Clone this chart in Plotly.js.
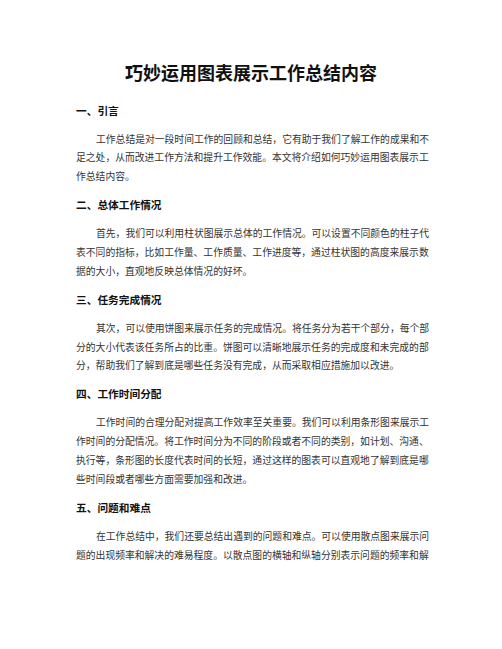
<!DOCTYPE html>
<html>
<head>
<meta charset="utf-8">
<script src="https://cdn.plot.ly/plotly-3.0.1.min.js"></script>
<style>
  html, body { margin: 0; padding: 0; background: #fff; }
  #page { width: 502px; height: 649px; }
</style>
</head>
<body>
<div id="page"></div>
<script>
// page text
var docTitle = '巧妙运用图表展示工作总结内容';

var headings = [
    '一、引言',
    '二、总体工作情况',
    '三、任务完成情况',
    '四、工作时间分配',
    '五、问题和难点'
];

var paragraphs = [
    ['工作总结是对一段时间工作的回顾和总结，它有助于我们了解工作的成果和不',
     '足之处，从而改进工作方法和提升工作效能。本文将介绍如何巧妙运用图表展示工',
     '作总结内容。'],
    ['首先，我们可以利用柱状图展示总体的工作情况。可以设置不同颜色的柱子代',
     '表不同的指标，比如工作量、工作质量、工作进度等，通过柱状图的高度来展示数',
     '据的大小，直观地反映总体情况的好坏。'],
    ['其次，可以使用饼图来展示任务的完成情况。将任务分为若干个部分，每个部',
     '分的大小代表该任务所占的比重。饼图可以清晰地展示任务的完成度和未完成的部',
     '分，帮助我们了解到底是哪些任务没有完成，从而采取相应措施加以改进。'],
    ['工作时间的合理分配对提高工作效率至关重要。我们可以利用条形图来展示工',
     '作时间的分配情况。将工作时间分为不同的阶段或者不同的类别，如计划、沟通、',
     '执行等，条形图的长度代表时间的长短，通过这样的图表可以直观地了解到底是哪',
     '些时间段或者哪些方面需要加强和改进。'],
    ['在工作总结中，我们还要总结出遇到的问题和难点。可以使用散点图来展示问',
     '题的出现频率和解决的难易程度。以散点图的横轴和纵轴分别表示问题的频率和解']
];

var font = 'Noto Sans CJK SC, Noto Sans, sans-serif';
var left = 74;
var bodySize = 9.8;
var lineStep = 18.8;
var gapAfterHead = 28.5;
var gapAfterPara = 28.5;

var notes = [];
notes.push({
    x: 251, y: 72, xref: 'x', yref: 'y', showarrow: false,
    xanchor: 'center', yanchor: 'middle',
    text: '<b>' + docTitle + '</b>',
    font: {family: font, size: 18, color: '#111'}
});

var y = 110;
for (var i = 0; i < headings.length; i++) {
    notes.push({
        x: left, y: y, xref: 'x', yref: 'y', showarrow: false,
        xanchor: 'left', yanchor: 'middle',
        text: '<b>' + headings[i] + '</b>',
        font: {family: font, size: 10.7, color: '#111'}
    });
    y += gapAfterHead;
    var lines = paragraphs[i];
    for (var j = 0; j < lines.length; j++) {
        notes.push({
            x: j == 0 ? left + 2 * bodySize : left, y: y,
            xref: 'x', yref: 'y', showarrow: false,
            xanchor: 'left', yanchor: 'middle',
            text: lines[j],
            font: {family: font, size: bodySize, color: '#333'}
        });
        if (j < lines.length - 1) y += lineStep;
    }
    y += gapAfterPara;
}

var layout = {
    width: 502, height: 649,
    margin: {l: 0, r: 0, t: 0, b: 0},
    paper_bgcolor: '#fff', plot_bgcolor: '#fff',
    showlegend: false,
    xaxis: {range: [0, 502], visible: false, fixedrange: true},
    yaxis: {range: [649, 0], visible: false, fixedrange: true},
    annotations: notes
};

Plotly.newPlot('page', [], layout, {staticPlot: true, displayModeBar: false});
</script>
</body>
</html>
